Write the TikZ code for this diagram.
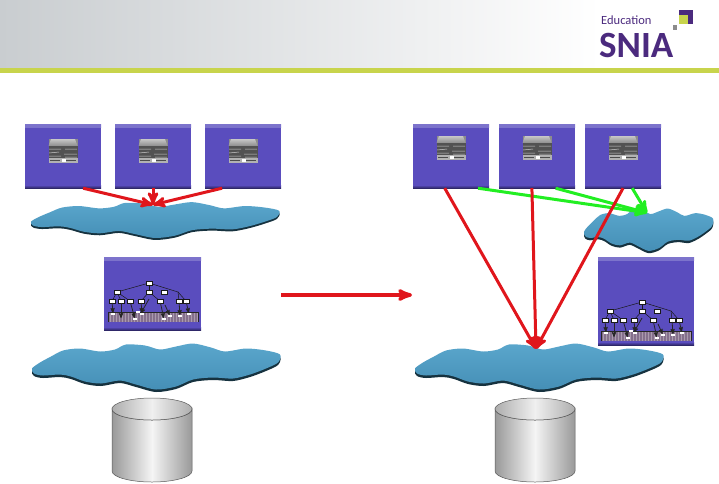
\documentclass[tikz,border=0pt]{standalone}
\usepackage{fontspec}
\usepackage{xcolor}
\usepackage{tikz}
\usetikzlibrary{arrows}
\newfontfamily\logofont{Carlito}
\definecolor{hostblue}{HTML}{5A4DBE}
\definecolor{hosttop}{HTML}{7D74CC}
\definecolor{hostlow}{HTML}{2E2768}
\definecolor{netlight}{HTML}{5AA6CC}
\definecolor{netdeep}{HTML}{458FB6}
\definecolor{netedge}{HTML}{16323F}
\definecolor{linkred}{HTML}{E0161C}
\definecolor{linkgreen}{HTML}{22EE22}
\definecolor{snialime}{HTML}{C8D44C}
\definecolor{sniapurple}{HTML}{4B2A7E}
\definecolor{stripgray}{HTML}{85708C}
\definecolor{bandgray}{HTML}{C9CDD0}
\tikzset{
	hostbox/.style={rectangle, minimum width=76pt, minimum height=64pt, inner sep=0pt, fill=hostblue,
		path picture={
			\shade[top color=hosttop, bottom color=hostblue] (path picture bounding box.north west) rectangle ([yshift=-3pt]path picture bounding box.north east);
			\shade[top color=hostblue, bottom color=hostlow] ([yshift=3pt]path picture bounding box.south west) rectangle (path picture bounding box.south east);
		}},
	netspot/.style={rectangle, inner sep=0pt, minimum width=#1, minimum height=0pt},
	redlink/.style={->, draw=linkred, line width=3pt},
	greenlink/.style={->, draw=linkgreen, line width=3pt},
	treenode/.style={rectangle, draw=black!90, fill=white, line width=.45pt, inner sep=0pt, minimum width=6pt, minimum height=3.5pt},
	treelabel/.style={rectangle, fill=white, inner sep=0pt, minimum width=3.5pt, minimum height=1.8pt},
	treeline/.style={black!90, line width=.5pt},
	treedrop/.style={->, >=stealth', black!85, line width=.8pt},
	serverpic/.pic={
		\fill[black!45] (-14.5,-12) -- (14.5,-12) -- (14.5,12) -- (-14.5,12) -- cycle;
		\shade[top color=black!22, bottom color=black!45] (-12,-12) -- (12,-12) -- (14.5,-5) -- (-14.5,-5) -- cycle;
		\fill[black!68] (-14.5,-5) rectangle (14.5,7);
		\fill[black!30] (-14.5,7) rectangle (14.5,12);
		\draw[white!80!black, line width=.5pt] (-14,-2) -- (-2,-2) (2,-2) -- (14,-2) (-14,2) -- (-4,1) (1,3) -- (14,3) (-14,5) -- (-2,5) (2,6) -- (14,6);
		\draw[black!70, line width=.6pt] (-13,9.5) -- (-3,9.5) (3,9.5) -- (13,9.5);
		\fill[white] (-1.5,8) rectangle (2.5,11);
	},
	cloudpic/.pic={
		\fill[netedge] plot[smooth cycle] coordinates {(-121,2) (-113,-4) (-102,-10) (-90,-16) (-73,-18) (-53,-15) (-38,-17) (-27,-22) (-8,-21) (7,-17) (23,-20) (40,-23) (58,-19) (72,-15) (93,-18) (113,-16) (127,-12) (125,-4) (113,2) (97,8) (80,12) (60,11) (40,13) (23,20) (3,23) (-17,18) (-33,14) (-52,17) (-68,15) (-82,10) (-93,8) (-110,9) (-119,7)};
		\shade[top color=netlight, bottom color=netdeep, shift={(0,-2.5)}] plot[smooth cycle] coordinates {(-121,2) (-113,-4) (-102,-10) (-90,-16) (-73,-18) (-53,-15) (-38,-17) (-27,-22) (-8,-21) (7,-17) (23,-20) (40,-23) (58,-19) (72,-15) (93,-18) (113,-16) (127,-12) (125,-4) (113,2) (97,8) (80,12) (60,11) (40,13) (23,20) (3,23) (-17,18) (-33,14) (-52,17) (-68,15) (-82,10) (-93,8) (-110,9) (-119,7)};
	},
	diskpic/.pic={
		\shade[left color=black!40, right color=black!40, middle color=black!4, draw=black!65, line width=.5pt] (-40,-31) -- (-40,31) arc[start angle=180, end angle=360, x radius=40, y radius=-11] -- (40,-31) arc[start angle=360, end angle=180, x radius=40, y radius=-11] -- cycle;
		\shade[left color=black!32, right color=black!32, middle color=black!6, draw=black!65, line width=.5pt] (0,-31) ellipse[x radius=40, y radius=11];
	},
	treepic/.pic={
		\fill[stripgray] (-41,29) rectangle (49,39);
		\draw[white!30!stripgray, line width=.2pt, xstep=3, ystep=3] (-41,29) grid (49,39);
		\draw[black!85, line width=.4pt] (-41,39) -- (-41,29) -- (49,29) -- (49,39);
		\node[treenode] (root) at (0,0) {};
		\node[treenode] (a) at (-32,9) {};
		\node[treenode] (b) at (0,9) {};
		\node[treenode] (c) at (15,9) {};
		\coordinate (j) at (29,9);
		\node[treenode] (d) at (-37,18) {};
		\node[treenode] (e) at (-28,18) {};
		\node[treenode] (f) at (-19,18) {};
		\node[treenode] (g) at (-8,18) {};
		\node[treenode] (h) at (11,18) {};
		\node[treenode] (k) at (30,18) {};
		\node[treenode] (l) at (37,18) {};
		\node[treelabel] (p) at (-36,31) {};
		\node[treelabel] (q) at (-14,36) {};
		\node[treelabel] (r) at (-11,29) {};
		\node[treelabel] (s) at (-7,31) {};
		\node[treelabel] (t) at (15,36) {};
		\node[treelabel] (u) at (21,33) {};
		\node[treelabel] (v) at (31,33) {};
		\node[treelabel] (w) at (40,31) {};
		\path[treeline] (root) edge (a)
					(root) edge (b)
					(root) edge (j)
					(a) edge (d)
					(a) edge (e)
					(a) edge (f)
					(b) edge (g)
					(b) edge (h)
					(j) edge (k)
					(j) edge (l);
		\path[treedrop] (d) edge (p)
					(e) edge (-28,35)
					(f) edge (q)
					(g) edge (s)
					(0,16) edge (-8,30)
					(h) edge (t)
					(16,22) edge (u)
					(k) edge (v)
					(l) edge (w);
	}
}
\begin{document}
\begin{tikzpicture}[x=1pt, y=-1pt, >=stealth']
			\useasboundingbox (0, 0) rectangle (719, 483);
			\shade[left color=bandgray, right color=white] (0, 0) rectangle (600, 68);
			\fill[snialime] (0, 68) rectangle (719, 73);

			\node[text=sniapurple, inner sep=0pt, anchor=west, font=\logofont\fontsize{12.5}{13}\selectfont] (eduLabel) at (601, 20) {Education};
			\node[text=sniapurple, inner sep=0pt, anchor=west, font=\logofont\bfseries\fontsize{37}{38}\selectfont] (sniaLabel) at (599, 45.5) {SNIA};
			\fill[sniapurple] (679, 10) rectangle (693, 24);
			\fill[snialime] (679, 15) rectangle (688, 24);
			\fill[black!45] (673, 25) rectangle (677, 30);

			\node[hostbox] (hostA) at (63, 156) {};
			\node[hostbox] (hostB) at (153, 156) {};
			\node[hostbox] (hostC) at (243, 156) {};
			\node[hostbox] (hostD) at (451, 156) {};
			\node[hostbox] (hostE) at (537, 156) {};
			\node[hostbox] (hostF) at (623, 156) {};
			\pic at (63, 151) {serverpic};
			\pic at (153, 151) {serverpic};
			\pic at (243, 151) {serverpic};
			\pic at (451, 148) {serverpic};
			\pic at (537, 148) {serverpic};
			\pic at (623, 148) {serverpic};

			\pic[xscale=1, yscale=.78] at (152, 222) {cloudpic};
			\pic at (153, 369) {cloudpic};
			\pic at (536, 369) {cloudpic};
			\pic[xscale=.52, yscale=.92] at (647, 232) {cloudpic};
			\node[netspot=60pt] (netA) at (153, 205) {};
			\node[netspot=60pt] (netB) at (536, 349) {};
			\node[netspot=40pt] (netC) at (647, 213) {};

			\node[hostbox, minimum width=97pt, minimum height=73pt] (mapA) at (152.5, 293.5) {};
			\node[hostbox, minimum width=96pt, minimum height=88pt] (mapB) at (646, 301) {};
			\pic (treeA) at (149, 283) {treepic};
			\pic (treeB) at (642, 302) {treepic};

			\pic at (152, 440) {diskpic};
			\pic at (535, 440) {diskpic};

			\coordinate (moveFrom) at (281, 295);
			\coordinate (moveTo) at (412, 295);
			\draw[redlink, line width=3.4pt] (moveFrom) -- (moveTo);

			\path	(hostA.-58) edge[redlink] (netA.north)
					(hostB.south) edge[redlink] (netA.north)
					(hostC.-123) edge[redlink] (netA.north)
					(hostD.-50) edge[greenlink] (netC.north)
					(hostE.-60) edge[greenlink] (netC.north)
					(hostF.-74) edge[greenlink] (netC.north)
					(hostD.-101) edge[redlink] (netB.north)
					(hostE.-99) edge[redlink] (netB.north)
					(hostF.south) edge[redlink] (netB.north);
		\end{tikzpicture}
\end{document}
